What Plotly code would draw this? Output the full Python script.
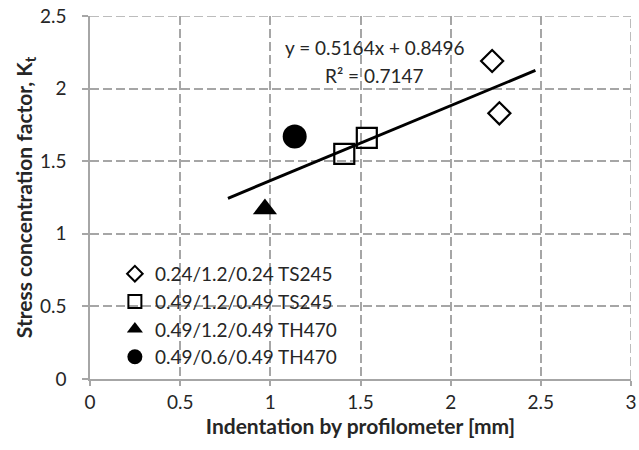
import plotly.graph_objects as go

names = ["0.24/1.2/0.24 TS245", "0.49/1.2/0.49 TS245", "0.49/1.2/0.49 TH470", "0.49/0.6/0.49 TH470"]
x_vals = [[2.23, 2.27], [1.41, 1.535], [0.97], [1.135]]
y_vals = [[2.19, 1.83], [1.55, 1.66], [1.17], [1.67]]
symbols = ["diamond-open", "square-open", "triangle-up", "circle"]
sizes = [17, 20, 21, 24]
legend_sizes = [12, 13, 14, 15]

slope, intercept = 0.5164, 0.8496
r_squared = 0.7147
trend_x = [0.765, 2.47]

x_ticks = [0, 0.5, 1, 1.5, 2, 2.5, 3]
y_ticks = [0, 0.5, 1, 1.5, 2, 2.5]

FONT = "Lato"
GRAY = "#a6a6a6"
TXT = "#262626"
DASH = "9px,4px"

fig = go.Figure()
for n, xs, ys, s, sz, lsz in zip(names, x_vals, y_vals, symbols, sizes, legend_sizes):
    fig.add_trace(go.Scatter(
        x=xs, y=ys, mode="markers", name=n, showlegend=False, legendgroup=n,
        marker=dict(symbol=s, size=sz, color="#000000",
                    line=dict(color="#000000", width=2.2 if "open" in s else 0)),
    ))
    # legend entry with the smaller symbol size used in the reference legend
    fig.add_trace(go.Scatter(
        x=[None], y=[None], mode="markers", name=n, legendgroup=n, showlegend=True,
        marker=dict(symbol=s, size=lsz, color="#000000",
                    line=dict(color="#000000", width=2 if "open" in s else 0)),
    ))

fig.add_trace(go.Scatter(
    x=trend_x, y=[slope * v + intercept for v in trend_x], mode="lines",
    line=dict(color="#000000", width=3), showlegend=False, hoverinfo="skip"))

fig.add_annotation(x=1.577, y=2.28, xref="x", yref="y", showarrow=False,
                   text=f"y = {slope}x + {intercept}", font=dict(family=FONT, size=19, color=TXT))
fig.add_annotation(x=1.577, y=2.09, xref="x", yref="y", showarrow=False,
                   text=f"R² = {r_squared}", font=dict(family=FONT, size=19, color=TXT))

# top and right dashed border gridlines
fig.add_shape(type="line", xref="x", yref="y", x0=x_ticks[0], x1=x_ticks[-1], y0=y_ticks[-1], y1=y_ticks[-1],
              line=dict(color=GRAY, width=1.5, dash=DASH), layer="below")
fig.add_shape(type="line", xref="x", yref="y", x0=x_ticks[-1], x1=x_ticks[-1], y0=y_ticks[0], y1=y_ticks[-1],
              line=dict(color=GRAY, width=1.5, dash=DASH), layer="below")

axis_common = dict(
    showline=True, linecolor=GRAY, linewidth=1.5,
    showgrid=True, gridcolor=GRAY, griddash=DASH, gridwidth=1.5,
    ticks="outside", tickcolor=GRAY, tickwidth=1.5,
    zeroline=False, tickfont=dict(family=FONT, size=19, color=TXT),
    ticklabeloverflow="allow", automargin=False,
)

fig.update_layout(
    width=639, height=450,
    margin=dict(l=90, r=8, t=16, b=71),
    plot_bgcolor="white", paper_bgcolor="white",
    xaxis=dict(range=[0, 3], tickvals=x_ticks, ticktext=[f"{v:g}" for v in x_ticks],
               ticklabelstandoff=0, ticklen=5,
               title=dict(text="<b>Indentation by profilometer [mm]</b>", standoff=2,
                          font=dict(family=FONT, size=21, color=TXT)),
               **axis_common),
    yaxis=dict(range=[0, 2.5], tickvals=y_ticks, ticktext=[f"{v:g}" for v in y_ticks],
               ticklabelstandoff=12, ticklen=6,
               title=dict(text="<b>Stress concentration factor, K<sub>t</sub></b>", standoff=2,
                          font=dict(family=FONT, size=21, color=TXT)),
               **axis_common),
    legend=dict(x=0.046, y=0.342, xanchor="left", yanchor="top", bgcolor="rgba(0,0,0,0)",
                font=dict(family=FONT, size=19, color=TXT), tracegroupgap=0),
    showlegend=True,
)

fig.write_html("out.html")
